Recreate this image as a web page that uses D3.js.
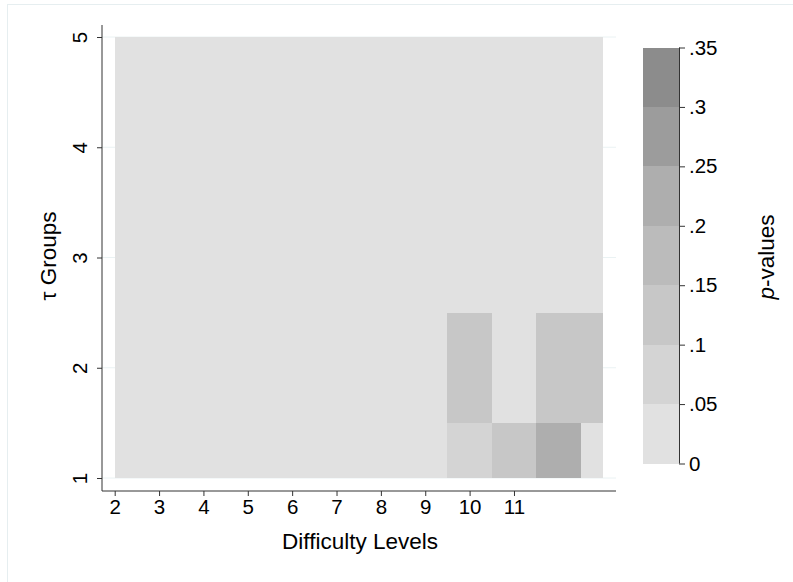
<!DOCTYPE html>
<html>
<head>
<meta charset="utf-8">
<script src="https://cdn.jsdelivr.net/npm/d3@7"></script>
<style>
  body { margin: 0; background: #fff; }
  text { font-family: "Liberation Sans", Arial, sans-serif; fill: #000; }
</style>
</head>
<body>
<div id="chart"></div>
<script>
// grid of difficulty levels (x) and tau groups (y)
const difficultyLevels = [2, 3, 4, 5, 6, 7, 8, 9, 10, 11, 12, 13];
const tauGroups = [1, 2, 3, 4, 5];
const xTickValues = [2, 3, 4, 5, 6, 7, 8, 9, 10, 11];
const yTickValues = [1, 2, 3, 4, 5];

// p-values, one row per tau group, one column per difficulty level
const pGroup1 = [0.01, 0.01, 0.01, 0.01, 0.01, 0.01, 0.01, 0.01, 0.07, 0.12, 0.22, 0.02];
const pGroup2 = [0.01, 0.01, 0.01, 0.01, 0.01, 0.01, 0.01, 0.01, 0.11, 0.02, 0.11, 0.11];
const pGroup3 = [0.01, 0.01, 0.01, 0.01, 0.01, 0.01, 0.01, 0.01, 0.01, 0.01, 0.01, 0.01];
const pGroup4 = [0.01, 0.01, 0.01, 0.01, 0.01, 0.01, 0.01, 0.01, 0.01, 0.01, 0.01, 0.01];
const pGroup5 = [0.01, 0.01, 0.01, 0.01, 0.01, 0.01, 0.01, 0.01, 0.01, 0.01, 0.01, 0.01];
const pValues = [pGroup1, pGroup2, pGroup3, pGroup4, pGroup5];

// colour cut points and the legend labels
const cutPoints = [0, 0.05, 0.1, 0.15, 0.2, 0.25, 0.3, 0.35];
const cutLabels = ["0", ".05", ".1", ".15", ".2", ".25", ".3", ".35"];
const grays = ["#e1e1e1", "#d4d4d4", "#c7c7c7", "#bbbbbb", "#aeaeae", "#9c9c9c", "#8c8c8c"];

const width = 793, height = 582;

const svg = d3.select("#chart").append("svg")
  .attr("width", width)
  .attr("height", height);

svg.append("rect")
  .attr("width", width).attr("height", height)
  .attr("fill", "#fff");

// faint outer frame
svg.append("rect")
  .attr("x", 7.5).attr("y", 4.5)
  .attr("width", width).attr("height", height)
  .attr("fill", "none")
  .attr("stroke", "#e6eef0");

// plot region
const plot = { left: 102, right: 616, top: 25, bottom: 491 };

const x = d3.scaleLinear().domain([2, 13]).range([114.7, 602.7]);
const y = d3.scaleLinear().domain([1, 5]).range([478, 37]);

const color = d3.scaleThreshold()
  .domain(cutPoints.slice(1, -1))
  .range(grays);

// grid lines
svg.append("g")
  .selectAll("line")
  .data(yTickValues)
  .enter()
  .append("line")
  .attr("x1", plot.left).attr("x2", plot.right)
  .attr("y1", d => y(d)).attr("y2", d => y(d))
  .attr("stroke", "#eaf2f3")
  .attr("stroke-width", 1);

// heat cells, clipped to the data range
const cells = [];
tauGroups.forEach((g, i) => {
  difficultyLevels.forEach((lv, j) => {
    cells.push({ x: lv, y: g, p: pValues[i][j] });
  });
});

const [x0, x1] = x.domain();
const [y0, y1] = y.domain();

svg.append("g")
  .attr("shape-rendering", "crispEdges")
  .selectAll("rect")
  .data(cells)
  .enter()
  .append("rect")
  .attr("x", d => x(Math.max(x0, d.x - 0.5)))
  .attr("width", d => x(Math.min(x1, d.x + 0.5)) - x(Math.max(x0, d.x - 0.5)))
  .attr("y", d => y(Math.min(y1, d.y + 0.5)))
  .attr("height", d => y(Math.max(y0, d.y - 0.5)) - y(Math.min(y1, d.y + 0.5)))
  .attr("fill", d => color(d.p));

// axis lines
svg.append("line")
  .attr("x1", plot.left).attr("x2", plot.right)
  .attr("y1", plot.bottom).attr("y2", plot.bottom)
  .attr("stroke", "#333");
svg.append("line")
  .attr("x1", plot.left).attr("x2", plot.left)
  .attr("y1", plot.top).attr("y2", plot.bottom)
  .attr("stroke", "#333");

// x axis
const xAxis = svg.append("g")
  .attr("transform", "translate(0," + plot.bottom + ")")
  .call(d3.axisBottom(x).tickValues(xTickValues).tickSize(5).tickPadding(3).tickFormat(d3.format("d")));
xAxis.select(".domain").remove();
xAxis.selectAll("line").attr("stroke", "#333");
xAxis.selectAll("text")
  .style("font-size", "20.5px")
  .attr("fill", "#000");

// y axis with rotated labels
const yAxis = svg.append("g")
  .attr("transform", "translate(" + plot.left + ",0)")
  .call(d3.axisLeft(y).tickValues(yTickValues).tickSize(5).tickFormat(d3.format("d")));
yAxis.select(".domain").remove();
yAxis.selectAll("line").attr("stroke", "#333");
yAxis.selectAll("text")
  .style("font-size", "20.5px")
  .attr("fill", "#000")
  .attr("x", 0).attr("dy", 0)
  .attr("transform", "translate(-15,0) rotate(-90)")
  .style("text-anchor", "middle");

// axis titles
svg.append("text")
  .attr("x", 360)
  .attr("y", 549)
  .attr("text-anchor", "middle")
  .style("font-size", "22.5px")
  .text("Difficulty Levels");

svg.append("text")
  .attr("transform", "translate(56," + 256 + ") rotate(-90)")
  .attr("text-anchor", "middle")
  .style("font-size", "22.5px")
  .text("τ Groups");

// colour bar
const bar = { left: 643, right: 679 };
const cy = d3.scaleLinear().domain([0, 0.35]).range([463.5, 47.5]);

svg.append("g")
  .attr("shape-rendering", "crispEdges")
  .selectAll("rect")
  .data(grays)
  .enter()
  .append("rect")
  .attr("x", bar.left)
  .attr("width", bar.right - bar.left)
  .attr("y", (d, i) => cy(cutPoints[i + 1]))
  .attr("height", (d, i) => cy(cutPoints[i]) - cy(cutPoints[i + 1]))
  .attr("fill", d => d);

const cAxis = svg.append("g")
  .attr("transform", "translate(" + bar.right + ",0)")
  .call(d3.axisRight(cy).tickValues(cutPoints).tickSize(6).tickPadding(4)
    .tickFormat((d, i) => cutLabels[i]));
cAxis.select(".domain").attr("stroke", "#333").attr("d", "M0.5," + cy(0.35) + "V" + cy(0));
cAxis.selectAll("line").attr("stroke", "#333");
cAxis.selectAll("text")
  .style("font-size", "20.5px")
  .attr("fill", "#000");

const legendTitle = svg.append("text")
  .attr("transform", "translate(774," + 257 + ") rotate(-90)")
  .attr("text-anchor", "middle")
  .style("font-size", "22.5px");
legendTitle.append("tspan").style("font-style", "italic").text("p");
legendTitle.append("tspan").text("-values");
</script>
</body>
</html>
